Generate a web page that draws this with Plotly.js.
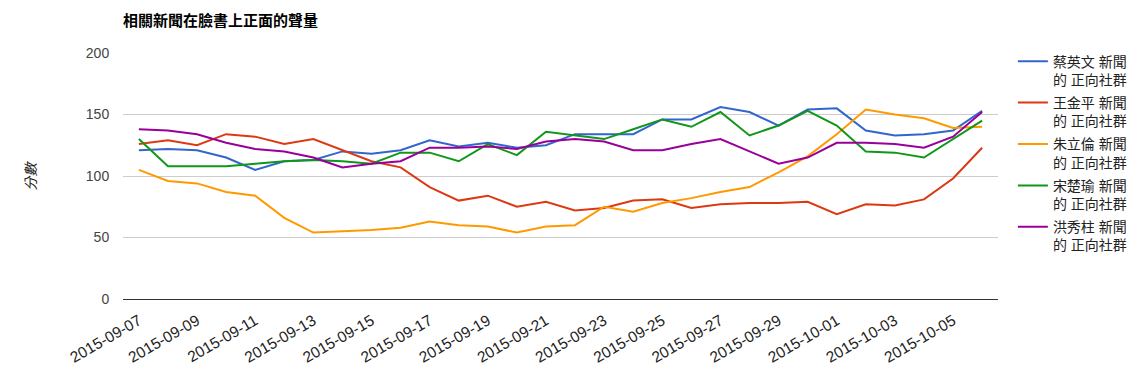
<!DOCTYPE html>
<html>
<head>
<meta charset="utf-8">
<script src="https://cdn.plot.ly/plotly-3.0.1.min.js"></script>
<style>html,body{margin:0;padding:0;background:#fff;}#chart{width:1144px;height:382px;}</style>
</head>
<body>
<div id="chart"></div>
<script>
const dates = ["2015-09-07","2015-09-08","2015-09-09","2015-09-10","2015-09-11","2015-09-12","2015-09-13","2015-09-14","2015-09-15","2015-09-16",
  "2015-09-17","2015-09-18","2015-09-19","2015-09-20","2015-09-21","2015-09-22","2015-09-23","2015-09-24","2015-09-25","2015-09-26",
  "2015-09-27","2015-09-28","2015-09-29","2015-09-30","2015-10-01","2015-10-02","2015-10-03","2015-10-04","2015-10-05","2015-10-06"];
const tickDates = ["2015-09-07","2015-09-09","2015-09-11","2015-09-13","2015-09-15","2015-09-17","2015-09-19","2015-09-21","2015-09-23","2015-09-25","2015-09-27","2015-09-29","2015-10-01","2015-10-03","2015-10-05"];
const seriesNames = ["蔡英文 新聞<br>的 正向社群","王金平 新聞<br>的 正向社群","朱立倫 新聞<br>的 正向社群","宋楚瑜 新聞<br>的 正向社群","洪秀柱 新聞<br>的 正向社群"];
const tsai   = [121,122,121,115,105,112,113,120,118,121,129,124,127,123,125,134,134,134,146,146,156,152,141,154,155,137,133,134,137,153];
const wang   = [126,129,125,134,132,126,130,121,112,107,91,80,84,75,79,72,74,80,81,74,77,78,78,79,69,77,76,81,98,123];
const chu    = [105,96,94,87,84,66,54,55,56,58,63,60,59,54,59,60,75,71,78,82,87,91,103,116,134,154,150,147,139,140];
const soong  = [130,108,108,108,110,112,113,112,110,119,119,112,126,117,136,133,130,138,146,140,152,133,141,153,141,120,119,115,130,145];
const hung   = [138,137,134,127,122,120,115,107,110,112,123,123,124,122,128,130,128,121,121,126,130,120,110,115,127,127,126,123,132,152];
const colors = ["#3366cc","#dc3912","#ff9900","#109618","#990099"];
const values = [tsai, wang, chu, soong, hung];

const FONT = "Arial, 'Liberation Sans', 'Noto Sans CJK TC', sans-serif";
const traces = values.map((v, k) => ({
  x: dates, y: v, name: seriesNames[k], type: "scatter", mode: "lines", legendgroup: "g" + k,
  line: {color: colors[k], width: 2}, hoverinfo: "x+y+name"
}));

const layout = {
  width: 1144, height: 382,
  margin: {l: 123, r: 139, t: 53, b: 83},
  paper_bgcolor: "#fff", plot_bgcolor: "#fff",
  font: {family: FONT, size: 14, color: "#222"},
  title: {text: "<b>相關新聞在臉書上正面的聲量</b>", x: 0, xref: "paper", xanchor: "left",
          y: 1 - 21/382, yref: "container", yanchor: "middle",
          font: {family: FONT, size: 15, color: "#000"}},
  showlegend: true,
  legend: {x: 1.017, xanchor: "left", y: 1.03, yanchor: "top", valign: "top", maxheight: 330,
           font: {family: FONT, size: 14, color: "#222"}, tracegroupgap: 2, itemwidth: 30},
  xaxis: {type: "category", range: [-0.546, 29.546], tickmode: "array",
          tickvals: tickDates, ticktext: tickDates, tickangle: -30,
          showgrid: false, zeroline: false, showline: false,
          ticks: "outside", ticklen: 6, tickcolor: "rgba(0,0,0,0)",
          tickfont: {family: FONT, size: 15.5, color: "#222"}, fixedrange: true},
  yaxis: {range: [0, 200], dtick: 50, tick0: 0, showgrid: true, gridcolor: "#cccccc",
          zeroline: true, zerolinecolor: "#333", zerolinewidth: 1, showline: false,
          ticks: "outside", ticklen: 10, tickcolor: "rgba(0,0,0,0)",
          tickfont: {family: FONT, size: 14, color: "#444"}, fixedrange: true},
  annotations: [{text: "<i>分數</i>", xref: "paper", yref: "paper", x: (30-123)/882, y: 0.5,
                 xanchor: "center", yanchor: "middle", textangle: -90, showarrow: false,
                 font: {family: FONT, size: 14, color: "#222"}}]
};
Plotly.newPlot("chart", traces, layout, {displayModeBar: false, staticPlot: true});
</script>
</body>
</html>
